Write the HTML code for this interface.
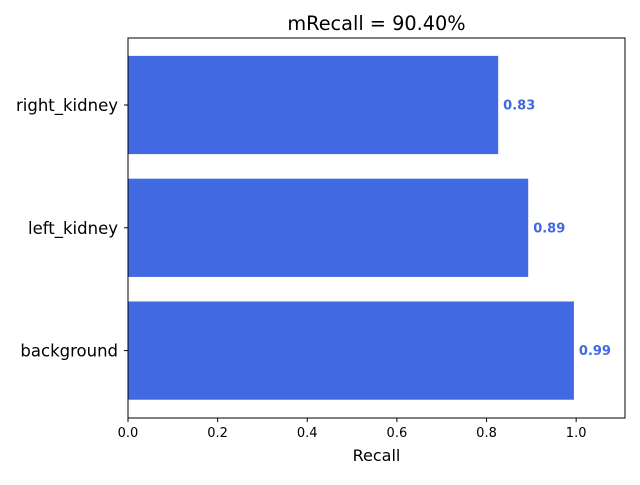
<!DOCTYPE html>
<html><head><meta charset="utf-8"><style>
body{margin:0;background:#fff;}
svg{font-family:"DejaVu Sans","Liberation Sans",sans-serif;}
</style></head><body>
<svg id="chart" width="640" height="480"></svg>
<script>
const categories = ["background","left_kidney","right_kidney"];
const values = [0.995, 0.893, 0.826];
const xTicks = [0.0,0.2,0.4,0.6,0.8,1.0];
const titleText = "mRecall = 90.40%";
const NS="http://www.w3.org/2000/svg";
const svg=document.getElementById('chart');
const L=128,R=625,T=38,B=418;
const xMax=1.109;
const x=v=>L+v/xMax*(R-L);
const yUnit=122.8;
const yc=i=>350.6-i*yUnit;
function mk(tag,attrs,text){const e=document.createElementNS(NS,tag);for(const k in attrs)e.setAttribute(k,attrs[k]);if(text!==undefined)e.textContent=text;svg.appendChild(e);return e;}
categories.forEach((c,i)=>{
  const b=mk('rect',{x:L,y:yc(i)-0.4*yUnit,width:x(values[i])-L,height:0.8*yUnit,fill:'#4169e1'});
  
  
  const v=mk('text',{x:x(values[i])+5,y:yc(i)+4.5,fill:'#4169e1','font-size':13,'font-weight':'bold'},values[i].toFixed(2));
  
  
  const t=mk('line',{x1:L-4,x2:L,y1:yc(i),y2:yc(i),stroke:'#000'});
  
  
  const l=mk('text',{x:L-10,y:yc(i)+6,'text-anchor':'end','font-size':16.5},c);
  
  
});
xTicks.forEach(v=>{
  const t=mk('line',{x1:x(v),x2:x(v),y1:B,y2:B+4,stroke:'#000'});
  
  
  const l=mk('text',{x:x(v),y:B+19,'text-anchor':'middle','font-size':13},v.toFixed(1));
  
  
});
const f=mk('rect',{x:L,y:T,width:R-L,height:B-T,fill:'none',stroke:'#000','stroke-width':1});


const xt=mk('text',{x:(L+R)/2,y:461,'text-anchor':'middle','font-size':16},'Recall');


const tt=mk('text',{x:(L+R)/2,y:30,'text-anchor':'middle','font-size':19.3},titleText);


</script>
</body></html>
